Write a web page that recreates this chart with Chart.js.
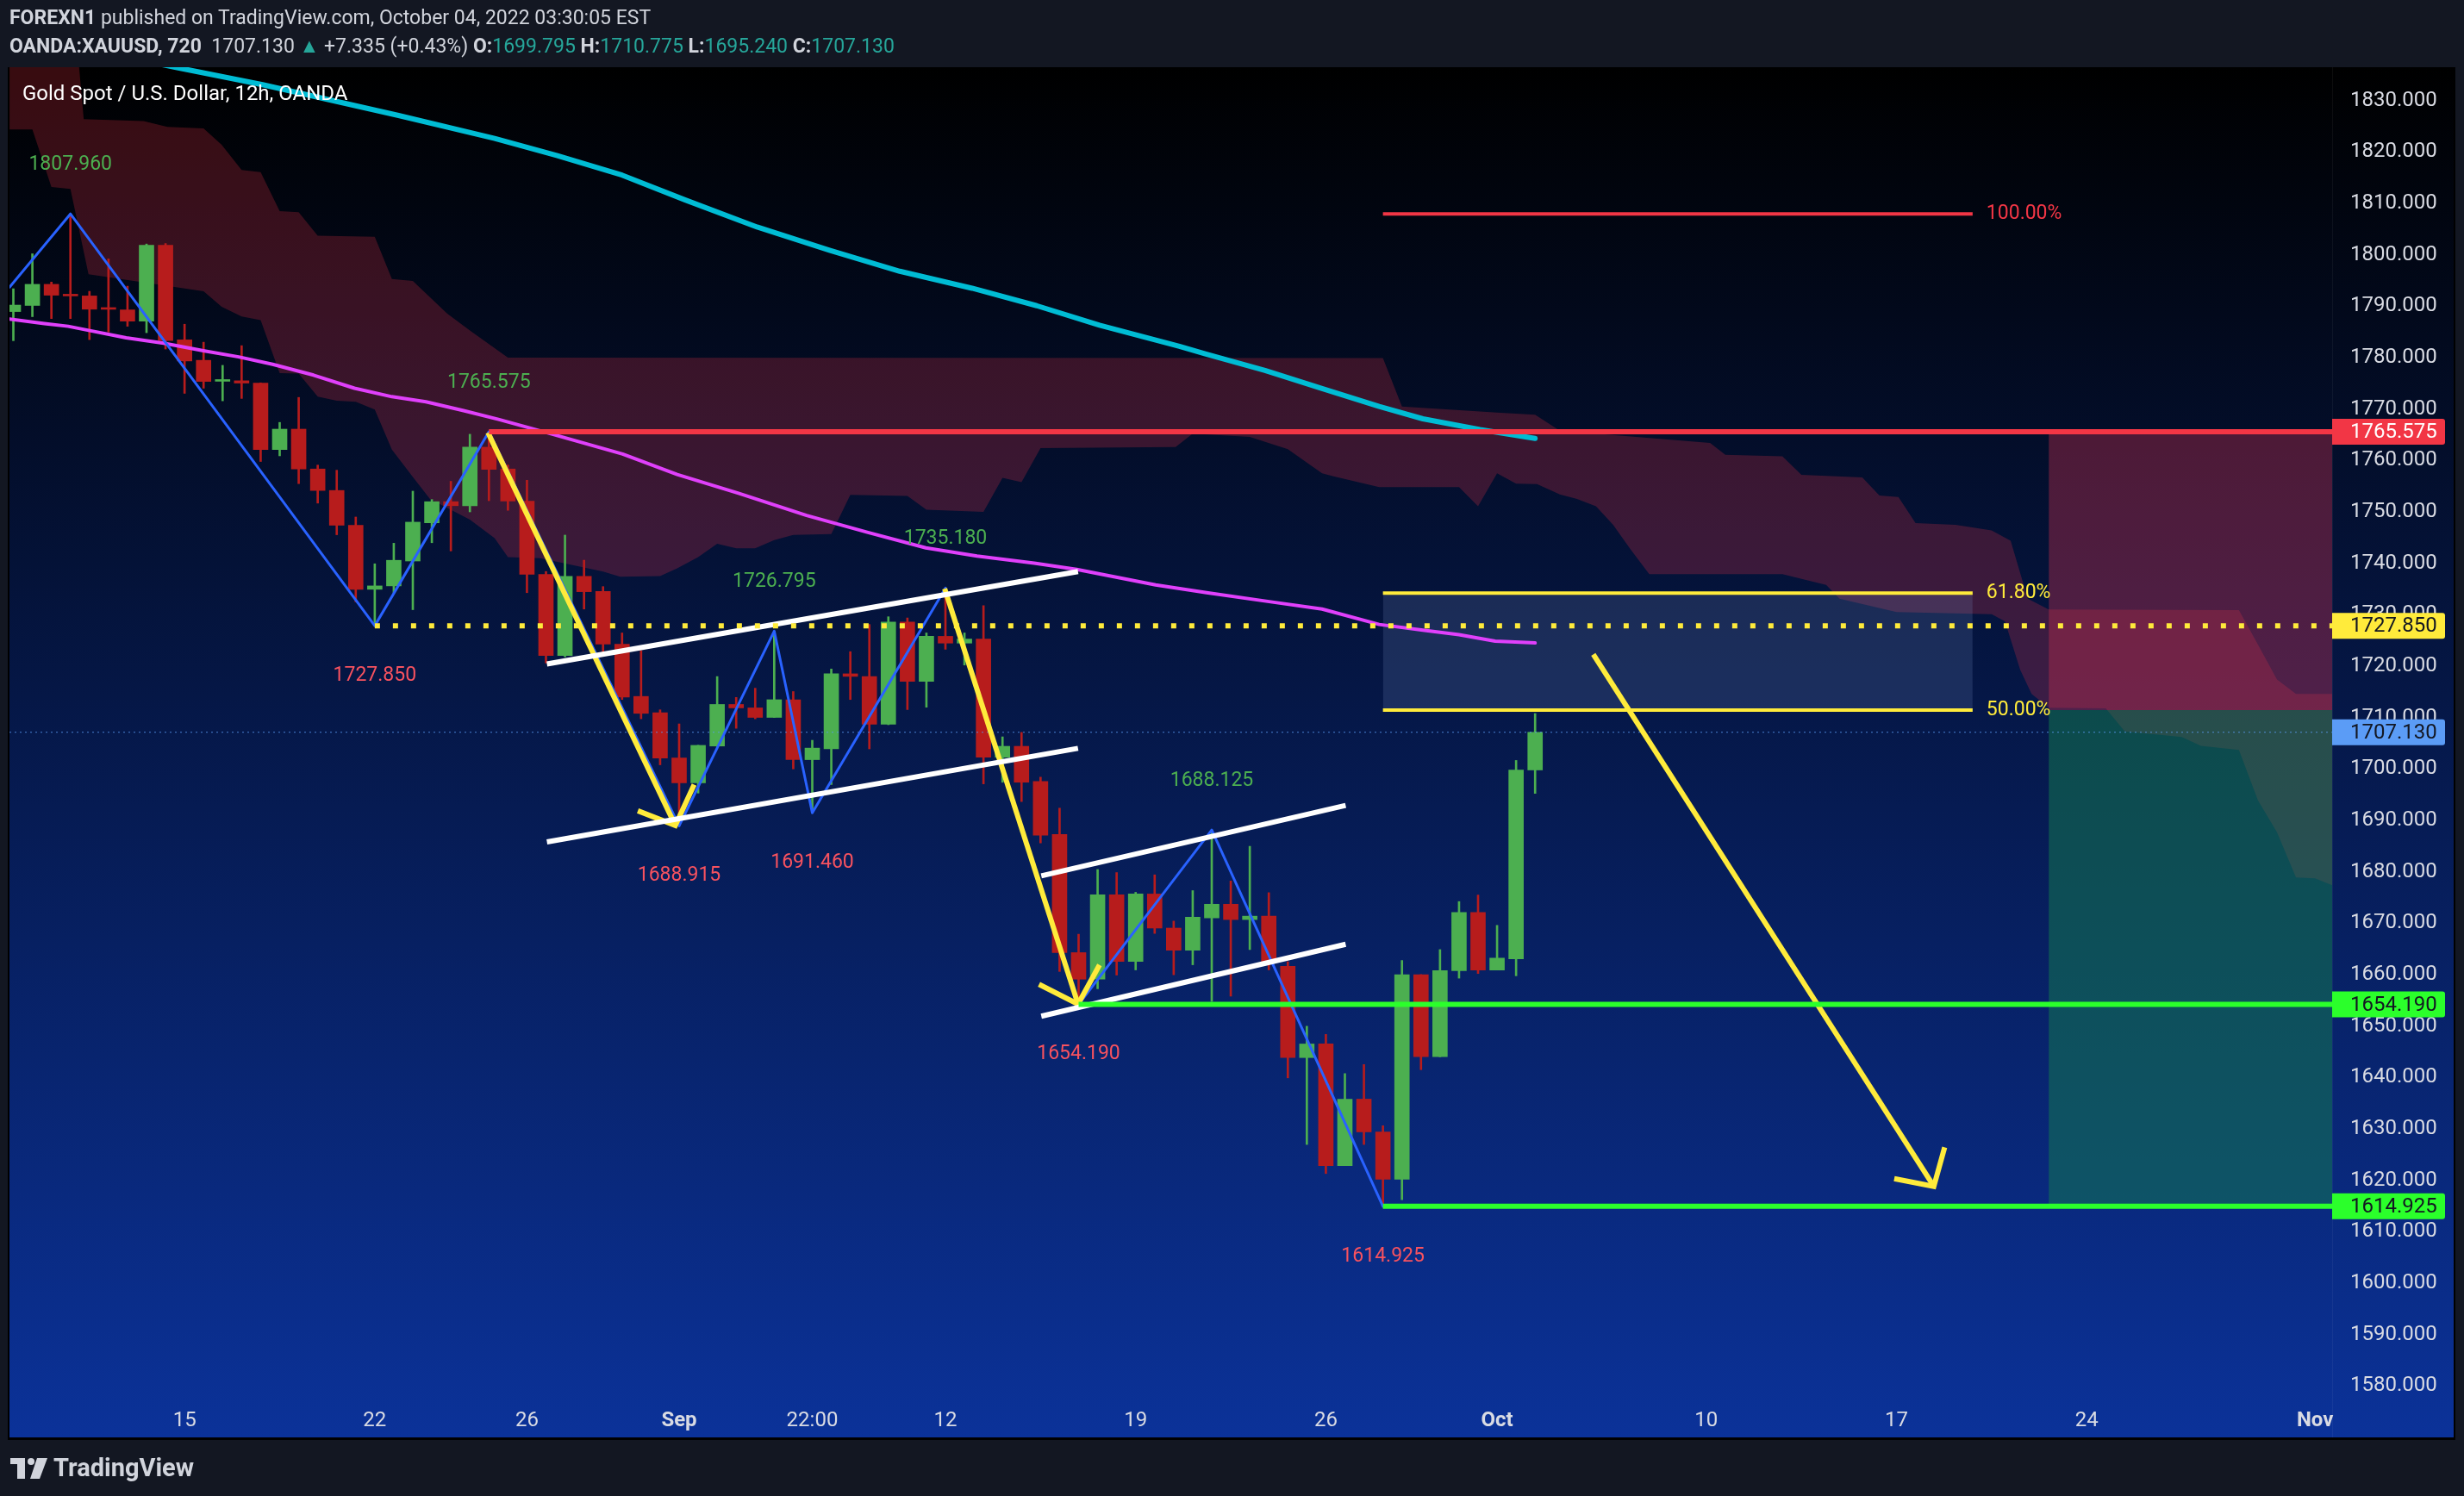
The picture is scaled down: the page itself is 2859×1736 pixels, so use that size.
<!DOCTYPE html>
<html>
<head>
<meta charset="utf-8">
<title>XAUUSD 12h</title>
<script src="https://cdn.jsdelivr.net/npm/chart.js"></script>
<style>
  html,body{margin:0;padding:0;background:#131722;width:2859px;height:1736px;overflow:hidden;}
  #wrap{position:absolute;left:0;top:0;width:2859px;height:1736px;}
  canvas{position:absolute;left:0;top:0;}
  .txt{position:absolute;font-family:Roboto,"Noto Sans",sans-serif;color:#d1d4dc;white-space:pre;line-height:1;}
  .up{color:#26a69a;}
  #h1{left:11px;top:9px;font-size:23px;}
  #h2{left:11px;top:42px;font-size:23px;}
  #title{left:26px;top:96px;font-size:24px;color:#ffffff;}
  #logo{left:12px;top:1689px;font-size:29px;font-weight:bold;color:#d1d4dc;display:flex;align-items:center;gap:6px;}
</style>
</head>
<body>
<div id="wrap">
  <canvas id="c" width="2859" height="1736"></canvas>
  <div class="txt" id="h1"><b>FOREXN1</b> published on TradingView.com, October 04, 2022 03:30:05 EST</div>
  <div class="txt" id="h2"><b>OANDA:XAUUSD, 720</b>  1707.130 <span class="up">▲</span> +7.335 (+0.43%) <b>O:</b><span class="up">1699.795</span> <b>H:</b><span class="up">1710.775</span> <b>L:</b><span class="up">1695.240</span> <b>C:</b><span class="up">1707.130</span></div>
  <div class="txt" id="title">Gold Spot / U.S. Dollar, 12h, OANDA</div>
  <div class="txt" id="logo"><svg width="44" height="26" viewBox="0 0 44 26"><rect x="0" y="1" width="17" height="7" fill="#d1d4dc"/><rect x="8" y="1" width="9" height="24" fill="#d1d4dc"/><circle cx="24" cy="5" r="4" fill="#d1d4dc"/><polygon points="31,1 43,1 34,25 23,25" fill="#d1d4dc"/></svg><span>TradingView</span></div>
</div>
<script>
/* ---------- data (bar index = 12h bar, weekends skipped) ---------- */
const xTickIdx  = [9, 19, 27, 35, 42, 49, 59, 69, 78, 89, 99, 109, 121];
const xTickText = ['15','22','26','Sep','22:00','12','19','26','Oct','10','17','24','Nov'];
const monthTicks = ['Sep','Oct','Nov'];
const yTicks = [1580,1590,1600,1610,1620,1630,1640,1650,1660,1670,1680,1690,1700,1710,1720,1730,1740,1750,1760,1770,1780,1790,1800,1810,1820,1830];

const opens  = [1788.96,1790.15,1794.26,1792.14,1792.0,1789.5,1789.29,1787.1,1801.88,1783.46,
                1779.48,1775.4,1775.5,1775.04,1762.12,1766.09,1758.34,1754.16,1747.4,1734.94,
                1735.6,1740.44,1747.87,1751.98,1751.2,1762.58,1758.34,1752.1,1737.85,1722.08,
                1737.46,1734.54,1724.27,1714.1,1710.94,1702.13,1697.29,1704.45,1712.54,1711.87,
                1710.02,1713.46,1701.8,1703.92,1718.5,1717.97,1708.69,1728.58,1717.04,1725.79,
                1724.47,1725.26,1702.26,1704.4,1697.54,1687.26,1664.27,1659.1,1675.53,1662.54,
                1675.67,1669.04,1664.73,1671.02,1673.68,1670.7,1671.36,1661.6,1643.85,1646.5,
                1622.84,1635.77,1629.4,1620.19,1659.96,1644.05,1660.75,1672.09,1660.88,1663.07,
                1699.795];
const highs  = [1793.4,1800.2,1794.7,1807.96,1792.9,1799.2,1793.9,1802.1,1802.2,1786.5,
                1783.0,1778.5,1782.33,1775.1,1767.4,1772.26,1759.1,1758.1,1749.0,1739.9,
                1743.9,1754.03,1752.4,1755.95,1765.1,1765.575,1759.1,1756.15,1738.4,1745.48,
                1740.6,1735.47,1726.45,1723.0,1711.5,1708.76,1704.6,1717.97,1713.9,1715.7,
                1726.795,1715.05,1705.57,1719.43,1722.81,1728.1,1729.6,1729.37,1726.45,1735.18,
                1726.45,1731.76,1706.24,1707.1,1698.4,1692.37,1667.85,1680.44,1679.84,1676.0,
                1679.4,1670.4,1676.33,1688.125,1678.2,1684.95,1675.93,1662.5,1649.95,1648.36,
                1640.74,1642.5,1630.6,1662.74,1660.0,1664.86,1674.2,1675.47,1669.57,1701.65,
                1710.775];
const lows   = [1783.3,1787.97,1787.6,1787.6,1783.5,1784.98,1786.1,1784.85,1781.67,1773.05,
                1774.05,1771.6,1772.06,1759.8,1760.9,1755.49,1751.7,1745.55,1732.49,1727.85,
                1734.3,1730.97,1744.0,1742.4,1750.0,1752.17,1750.3,1734.28,1720.6,1721.8,
                1731.1,1722.5,1713.5,1709.75,1700.8,1688.915,1695.3,1704.4,1707.9,1709.75,
                1710.0,1700.0,1691.46,1696.96,1713.5,1703.9,1708.6,1711.54,1712.0,1723.27,
                1720.2,1697.09,1697.4,1693.65,1685.6,1660.6,1654.19,1657.24,1659.9,1660.9,
                1668.0,1659.96,1661.9,1654.79,1655.8,1664.86,1660.9,1639.9,1626.95,1621.3,
                1622.84,1626.95,1614.925,1616.2,1641.5,1644.0,1659.3,1660.2,1660.88,1659.76,
                1695.24];
const closes = [1790.22,1794.26,1792.14,1792.0,1789.42,1789.4,1787.1,1801.88,1783.33,1779.35,
                1775.37,1775.55,1775.05,1762.12,1766.09,1758.34,1754.16,1747.4,1734.94,1735.6,
                1740.58,1748.0,1751.98,1751.2,1762.58,1758.27,1752.1,1737.85,1722.08,1737.46,
                1734.47,1724.27,1713.99,1710.81,1702.13,1697.29,1704.58,1712.54,1711.87,1710.02,
                1713.46,1701.8,1704.05,1718.5,1718.0,1708.69,1728.58,1717.04,1725.79,1724.47,
                1725.26,1702.26,1704.4,1697.41,1687.13,1664.27,1659.1,1675.53,1662.54,1675.67,
                1669.04,1664.73,1671.16,1673.68,1670.7,1671.36,1662.54,1643.85,1646.5,1622.84,
                1635.77,1629.4,1620.19,1659.96,1644.05,1660.75,1672.09,1660.88,1663.2,1699.795,
                1707.13];

// moving averages
const maSlowIdx = [4.0,8.5,13.1,20.25,25.3,28.6,32.0,35.3,39.1,42.9,46.6,50.4,53.8,57.1,61.3,62.7,65.8,68.8,71.8,74.1,77.1,80.0];
const maSlowVal = [1839.8,1836.5,1833.1,1827.1,1822.65,1819.3,1815.5,1810.7,1805.4,1800.9,1796.8,1793.5,1790.1,1786.3,1782.2,1780.7,1777.5,1774.0,1770.5,1768.1,1766.0,1764.3];
const maFastIdx = [-0.2,1.63,2.88,3.96,5.93,7.9,10.05,11.84,13.63,15.78,17.93,19.9,21.69,23.67,25.5,28.26,32.03,34.9,38.12,41.7,44.93,47.97,50.66,53.67,55.9,60.05,62.73,66.1,68.8,71.8,74.1,76.0,77.9,80.0];
const maFastVal = [1787.5,1786.64,1786.1,1785.3,1783.86,1782.8,1781.3,1780.15,1778.7,1776.6,1774.05,1772.4,1771.4,1769.7,1768.0,1765.2,1761.25,1757.27,1753.63,1749.3,1746.0,1743.0,1741.4,1740.04,1738.8,1735.8,1734.3,1732.5,1731.1,1728.1,1727.0,1726.1,1724.85,1724.5];

// ichimoku cloud edges
const cloudTopIdx = [-0.2,3.25,3.7,6.85,8.1,10.0,10.95,12.0,13.0,14.0,15.0,16.0,19.0,19.9,21.0,22.8,24.0,26.0,72.0,73.0,78.0,80.0,81.3,89.2,90.0,93.0,94.0,97.2,98.1,99.1,100.0,102.1,104.0,105.0,105.9,107.0,117.0,118.0,119.0,120.0,122.5];
const cloudTopVal = [1845,1845,1826.4,1826.0,1824.9,1824.6,1821.4,1816.5,1816.1,1808.5,1808.3,1803.7,1803.5,1795.3,1794.9,1788.6,1785.3,1780.0,1779.9,1770.5,1769.3,1768.9,1765.8,1763.4,1761.1,1760.8,1757.2,1756.7,1753.2,1752.9,1747.8,1747.5,1746.4,1744.4,1733.1,1731.0,1730.9,1724.2,1717.4,1714.6,1714.6];
const cloudBotIdx = [-0.2,1.0,2.0,3.0,3.95,10.0,10.95,12.0,13.0,14.0,15.0,16.0,17.0,18.0,19.0,19.9,21.0,21.9,24.0,25.3,26.0,27.7,31.0,31.9,34.0,34.9,36.0,37.0,38.0,39.0,40.0,41.0,43.0,44.0,47.0,48.0,51.0,52.0,53.0,54.0,61.1,62.0,65.0,67.0,68.8,69.4,71.8,76.0,77.0,78.0,79.0,80.1,81.3,82.2,83.2,84.1,85.0,86.0,93.0,94.1,95.3,96.0,99.0,104.0,104.7,105.5,106.1,107.0,110.0,111.0,114.0,115.0,117.0,118.0,119.0,120.0,121.0,122.5];
const cloudBotVal = [1824.4,1824.4,1813.2,1812.8,1796.2,1792.9,1789.9,1788.0,1787.3,1777.0,1776.9,1772.4,1771.6,1771.4,1769.9,1762.1,1756.8,1752.5,1748.5,1744.9,1741.2,1741.0,1738.4,1737.4,1737.5,1739.0,1741.2,1743.8,1742.9,1742.9,1744.5,1745.5,1745.7,1753.3,1753.1,1750.4,1750.0,1756.6,1755.8,1762.4,1762.6,1765.2,1764.6,1762.2,1757.5,1756.9,1754.8,1754.8,1751.1,1757.5,1755.5,1755.4,1753.4,1752.5,1751.1,1747.5,1742.8,1737.9,1737.9,1736.9,1735.8,1733.1,1730.5,1730.1,1728.7,1719.3,1714.6,1711.9,1711.8,1707.3,1706.2,1704.5,1703.7,1693.9,1687.7,1678.9,1678.7,1676.5];

// zigzag pivots
const zigIdx = [-0.2, 3, 19, 25, 35, 40, 42, 49, 56, 63, 72];
const zigVal = [1793.7, 1807.96, 1727.85, 1765.575, 1688.915, 1726.795, 1691.46, 1735.18, 1654.19, 1688.125, 1614.925];

// drawings
const chanIdx     = [[28.05, 55.97], [28.05, 55.97], [54.04, 70.04], [54.04, 70.04]];
const chanVal     = [[1720.4, 1738.4], [1685.8, 1704.0], [1679.2, 1692.9], [1651.9, 1665.9]];
const arrowIdx    = [[24.95, 34.8], [48.96, 55.97], [83.06, 100.96]];
const arrowVal    = [[1765.43, 1689.0], [1735.07, 1654.26], [1722.26, 1618.8]];
const headIdx     = [[32.83, 34.8, 35.79], [53.92, 55.97, 57.1], [98.88, 100.96, 101.53]];
const headVal     = [[1691.86, 1689.0, 1696.96], [1658.1, 1654.26, 1661.88], [1620.3, 1618.8, 1626.4]];
const rayVal      = [1765.575, 1727.85, 1654.19, 1614.925];
const rayFrom     = [25, 19, 56, 72];
const fibVal      = [1807.96, 1734.22, 1711.44];
const fibText     = ['100.00%', '61.80%', '50.00%'];
const fibRange    = [72, 103];
const posFrom     = 107;
const posStop     = 1765.575;
const posEntry    = 1711.44;
const posTarget   = 1614.925;
const lastPrice   = 1707.13;
const xMin = -0.204, xMax = 121.9;
const yMin = 1577.18, yMax = 1836.49;

/* ---------- style ---------- */
const GREEN = '#4caf50', RED = '#b71c1c';
const RED_LINE = '#f23645', YEL = '#ffeb3b', LIME = '#2bff2b';
const FRAME = {left: 11, top: 78, right: 2847, bottom: 1668};
const AXIS_FONT = 'Roboto, "Noto Sans", sans-serif';

function pts(xs, ys){ return xs.map((x,i)=>({x, y: ys[i]})); }
function line(data, color, width, order, extra){
  return Object.assign({type:'line', data, borderColor:color, borderWidth:width, pointRadius:0,
    tension:0, fill:false, order, clip:0, borderCapStyle:'round', borderJoinStyle:'round'}, extra||{});
}
const idxs = opens.map((_,i)=>i);
const isUp = i => closes[i] >= opens[i];

const datasets = [];
// cloud (upper edge filled to lower edge)
datasets.push(line(pts(cloudTopIdx, cloudTopVal), 'rgba(0,0,0,0)', 0, 100,
  {fill: 1, backgroundColor:'rgba(242,54,69,0.23)'}));
datasets.push(line(pts(cloudBotIdx, cloudBotVal), 'rgba(0,0,0,0)', 0, 101));
// fib zone
datasets.push(line(pts(fibRange, [fibVal[1], fibVal[1]]), 'rgba(0,0,0,0)', 0, 95,
  {fill:{value: fibVal[2]}, backgroundColor:'rgba(110,130,180,0.22)'}));
// position tool
datasets.push(line(pts([posFrom, xMax+1], [posStop, posStop]), 'rgba(0,0,0,0)', 0, 95,
  {fill:{value: posEntry}, backgroundColor:'rgba(210,50,80,0.36)'}));
datasets.push(line(pts([posFrom, xMax+1], [posEntry, posEntry]), 'rgba(0,0,0,0)', 0, 95,
  {fill:{value: posTarget}, backgroundColor:'rgba(20,125,80,0.5)'}));
// candles
datasets.push({type:'bar', data: idxs.map(i=>({x:i, y:[lows[i], highs[i]]})), barThickness:2, grouped:false,
  backgroundColor: c => isUp(c.dataIndex) ? GREEN : RED, order:80, clip:0});
datasets.push({type:'bar', data: idxs.map(i=>({x:i, y:[opens[i], closes[i]]})), barThickness:17, grouped:false,
  minBarLength:2, backgroundColor: c => isUp(c.dataIndex) ? GREEN : RED, order:79, clip:0});
// last price
datasets.push(line(pts([xMin, xMax], [lastPrice, lastPrice]), 'rgba(91,156,246,0.8)', 1, 75, {borderDash:[2,4], borderCapStyle:'butt'}));
// moving averages
datasets.push(line(pts(maFastIdx, maFastVal), '#e040fb', 4, 70));
datasets.push(line(pts(maSlowIdx, maSlowVal), '#00bcd4', 6, 70));
// zigzag
datasets.push(line(pts(zigIdx, zigVal), '#2962ff', 3, 60));
// channels
chanIdx.forEach((c,i)=> datasets.push(line(pts(c, chanVal[i]), '#ffffff', 6, 50, {borderCapStyle:'butt'})));
// arrows
arrowIdx.forEach((a,i)=>{
  datasets.push(line(pts(a, arrowVal[i]), YEL, 6, 50, {borderCapStyle:'butt'}));
  datasets.push(line(pts(headIdx[i], headVal[i]), YEL, 6, 50, {borderCapStyle:'butt', borderJoinStyle:'miter'}));
});
// fib lines
fibVal.forEach((v,i)=> datasets.push(line(pts(fibRange, [v, v]), i===0 ? RED_LINE : YEL, 4, 45, {borderCapStyle:'butt'})));
// horizontal rays
rayVal.forEach((v,i)=>{
  const dotted = i===1;
  const col = i===0 ? RED_LINE : (dotted ? YEL : LIME);
  datasets.push(line(pts([rayFrom[i], xMax+1], [v, v]), col, 6, 40,
    dotted ? {borderDash:[6,15], borderCapStyle:'butt'} : {borderCapStyle:'butt'}));
});

/* ---------- plugins ---------- */
const bgPlugin = {
  id:'bg',
  beforeDraw(chart){
    const ctx = chart.ctx;
    const g = ctx.createLinearGradient(0, FRAME.top, 0, FRAME.bottom);
    g.addColorStop(0, '#000000');
    g.addColorStop(1, '#0b3299');
    ctx.save();
    ctx.fillStyle = '#000000';
    ctx.fillRect(FRAME.left-2, FRAME.top, FRAME.right-FRAME.left+4, FRAME.bottom-FRAME.top+3);
    ctx.fillStyle = g;
    ctx.fillRect(FRAME.left, FRAME.top, FRAME.right-FRAME.left, FRAME.bottom-FRAME.top);
    ctx.fillStyle = 'rgba(255,255,255,0.05)';
    ctx.fillRect(chart.chartArea.right, FRAME.top, 1, FRAME.bottom-FRAME.top);
    ctx.restore();
  }
};
const labelPlugin = {
  id:'labels',
  afterDatasetsDraw(chart){
    const {ctx, scales:{x, y}, chartArea} = chart;
    ctx.save();
    ctx.beginPath(); ctx.rect(chartArea.left, chartArea.top, chartArea.width, chartArea.height); ctx.clip();
    ctx.font = '23px ' + AXIS_FONT;
    ctx.textAlign = 'center'; ctx.textBaseline = 'middle';
    for(let i=1;i<zigIdx.length;i++){
      const high = zigVal[i] > zigVal[i-1];
      ctx.fillStyle = high ? '#4caf50' : '#f7525f';
      const py = y.getPixelForValue(zigVal[i]) + (high ? -57 : 58);
      ctx.fillText(zigVal[i].toFixed(3), x.getPixelForValue(zigIdx[i]), py);
    }
    ctx.textAlign = 'left';
    fibVal.forEach((v,i)=>{
      ctx.fillStyle = i===0 ? RED_LINE : YEL;
      ctx.fillText(fibText[i], x.getPixelForValue(fibRange[1]) + 16, y.getPixelForValue(v));
    });
    ctx.restore();
  },
  afterDraw(chart){
    const {ctx, scales:{y}, chartArea} = chart;
    const tags = [[rayVal[0], RED_LINE, '#ffffff'], [rayVal[1], YEL, '#131722'], [lastPrice, '#5b9cf6', '#131722'],
                  [rayVal[2], LIME, '#131722'], [rayVal[3], LIME, '#131722']];
    ctx.save();
    ctx.font = '24px ' + AXIS_FONT;
    ctx.textBaseline = 'middle'; ctx.textAlign = 'left';
    tags.forEach(([v, bg, fg])=>{
      const py = y.getPixelForValue(v);
      ctx.fillStyle = bg;
      ctx.beginPath();
      ctx.roundRect(chartArea.right, py-15, 131, 30, [0,3,3,0]);
      ctx.fill();
      ctx.fillStyle = fg;
      ctx.fillText(v.toFixed(3), chartArea.right + 21, py+1);
    });
    ctx.restore();
  }
};

new Chart(document.getElementById('c'), {
  type:'bar',
  data:{datasets},
  options:{
    responsive:false, animation:false, devicePixelRatio:1,
    layout:{padding:{left:FRAME.left, top:FRAME.top, right:2859-FRAME.right, bottom:1736-FRAME.bottom}},
    plugins:{legend:{display:false}, tooltip:{enabled:false}},
    scales:{
      x:{type:'linear', position:'bottom', min:xMin, max:xMax, offset:false,
        grid:{display:false, drawTicks:false}, border:{display:false},
        afterBuildTicks: s => { s.ticks = xTickIdx.map(v=>({value:v})); },
        afterFit: s => { s.height = 43; },
        ticks:{autoSkip:false, maxRotation:0, padding:10, color:'#d9dbe3',
          font: c => ({family:AXIS_FONT, size:24, weight: (c.tick && monthTicks.includes(xTickText[xTickIdx.indexOf(c.tick.value)])) ? 'bold' : 'normal'}),
          callback: v => xTickText[xTickIdx.indexOf(v)] ?? ''}
      },
      y:{type:'linear', position:'right', min:yMin, max:yMax,
        grid:{display:false, drawTicks:false}, border:{display:false},
        afterBuildTicks: s => { s.ticks = yTicks.map(v=>({value:v})); },
        afterFit: s => { s.width = FRAME.right - 2706; },
        ticks:{padding:21, color:'#d9dbe3', font:{family:AXIS_FONT, size:24}, callback: v => Number(v).toFixed(3)}
      }
    }
  },
  plugins:[bgPlugin, labelPlugin]
});
</script>
</body>
</html>
